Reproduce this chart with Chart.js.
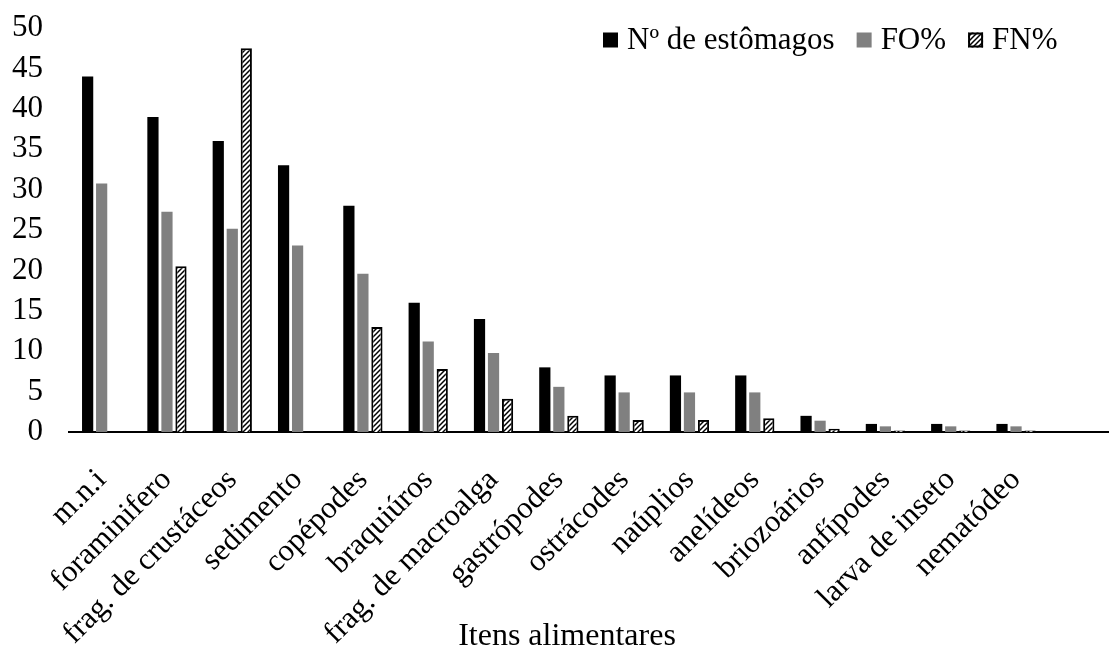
<!DOCTYPE html>
<html>
<head>
<meta charset="utf-8">
<script src="https://cdn.jsdelivr.net/npm/chart.js@4.4.1/dist/chart.umd.min.js"></script>
<style>
  html, body { margin: 0; padding: 0; background: #fff; overflow: hidden; }
  #wrap { position: relative; width: 1114px; height: 650px; }
</style>
</head>
<body>
<div id="wrap"><canvas id="c"></canvas></div>
<script>
// Food items found in the stomachs (last slot left empty, as on the axis)
const categories = ['m.n.i', 'foraminifero', 'frag. de crustáceos', 'sedimento', 'copépodes',
  'braquiúros', 'frag. de macroalga', 'gastrópodes', 'ostrácodes', 'naúplios', 'anelídeos',
  'briozoários', 'anfípodes', 'larva de inseto', 'nematódeo', ''];

// Number of stomachs containing each item
const nStomachs = [44, 39, 36, 33, 28, 16, 14, 8, 7, 7, 7, 2, 1, 1, 1, null];
// Frequency of occurrence (%)
const foPct = [30.77, 27.27, 25.17, 23.08, 19.58, 11.19, 9.79, 5.59, 4.90, 4.90, 4.90, 1.40, 0.70, 0.70, 0.70, null];
// Numeric frequency (%)
const fnPct = [null, 20.5, 47.5, null, 13.0, 7.8, 4.1, 2.0, 1.5, 1.5, 1.7, 0.4, 0.2, 0.2, 0.2, null];

const seriesNames = ['Nº de estômagos', 'FO%', 'FN%'];
const yTicks = [0, 5, 10, 15, 20, 25, 30, 35, 40, 45, 50];

const FONT = 'Liberation Serif, "Times New Roman", serif';

// Dashed upward-diagonal hatch fill
function makeHatch() {
  const s = 5;
  const p = document.createElement('canvas');
  p.width = s; p.height = s;
  const g = p.getContext('2d');
  g.fillStyle = '#fff';
  g.fillRect(0, 0, s, s);
  g.strokeStyle = '#000';
  g.lineWidth = 1.5;
  g.beginPath();
  g.moveTo(0, s); g.lineTo(s, 0);
  g.moveTo(-1, 1); g.lineTo(1, -1);
  g.moveTo(s - 1, s + 1); g.lineTo(s + 1, s - 1);
  g.stroke();
  return document.createElement('canvas').getContext('2d').createPattern(p, 'repeat');
}
const hatch = makeHatch();

// Legend drawn inside the plot, top right, plus the x-axis title
const overlay = {
  id: 'overlay',
  afterDraw(chart) {
    const ctx = chart.ctx;
    ctx.save();
    ctx.font = '31px ' + FONT;
    ctx.textBaseline = 'middle';
    ctx.fillStyle = '#000';
    let x = 603;
    const yc = 40;
    chart.data.datasets.forEach((ds) => {
      const bs = 15;
      ctx.fillStyle = ds.backgroundColor;
      ctx.fillRect(x, yc - bs / 2, bs, bs);
      if (ds.borderWidth) {
        ctx.strokeStyle = '#000';
        ctx.lineWidth = 2;
        ctx.strokeRect(x + 1, yc - bs / 2 + 1, bs - 2, bs - 2);
      }
      ctx.fillStyle = '#000';
      const tx = x + bs + 9;
      ctx.fillText(ds.label, tx, yc + 1);
      x = tx + ctx.measureText(ds.label).width + 22;
    });
    ctx.font = '32px ' + FONT;
    ctx.textAlign = 'center';
    ctx.textBaseline = 'alphabetic';
    ctx.fillText('Itens alimentares', 567, 645);
    ctx.restore();
  }
};

new Chart(document.getElementById('c'), {
  type: 'bar',
  data: {
    labels: categories,
    datasets: [
      { label: seriesNames[0], data: nStomachs, backgroundColor: '#000000', borderWidth: 0 },
      { label: seriesNames[1], data: foPct, backgroundColor: '#808080', borderWidth: 0 },
      { label: seriesNames[2], data: fnPct, backgroundColor: hatch, borderColor: '#000', borderWidth: 2 }
    ]
  },
  options: {
    responsive: true,
    maintainAspectRatio: false,
    animation: false,
    devicePixelRatio: 1,
    layout: { padding: { top: 28, right: 0, bottom: 0, left: 0 } },
    datasets: { bar: { categoryPercentage: 0.644, barPercentage: 0.8 } },
    plugins: {
      legend: { display: false },
      tooltip: { enabled: false }
    },
    scales: {
      x: {
        grid: { display: false, drawTicks: false },
        border: { display: true, color: '#000', width: 2 },
        ticks: {
          color: '#000',
          font: { family: FONT, size: 31 },
          minRotation: 45, maxRotation: 45,
          autoSkip: false,
          padding: 30
        },
        afterFit(s) {
          s.height = 650 - 432;
          s.paddingLeft = 0; s.paddingRight = 0;
        }
      },
      y: {
        min: 0, max: 50,
        grid: { display: false, drawTicks: false },
        border: { display: false },
        afterBuildTicks(s) { s.ticks = yTicks.map(v => ({ value: v })); },
        ticks: {
          color: '#000',
          font: { family: FONT, size: 31 },
          padding: 26,
          autoSkip: false
        },
        afterFit(s) {
          s.width = 69;
          s.paddingTop = 0; s.paddingBottom = 0;
        }
      }
    }
  },
  plugins: [overlay]
});
</script>
</body>
</html>
